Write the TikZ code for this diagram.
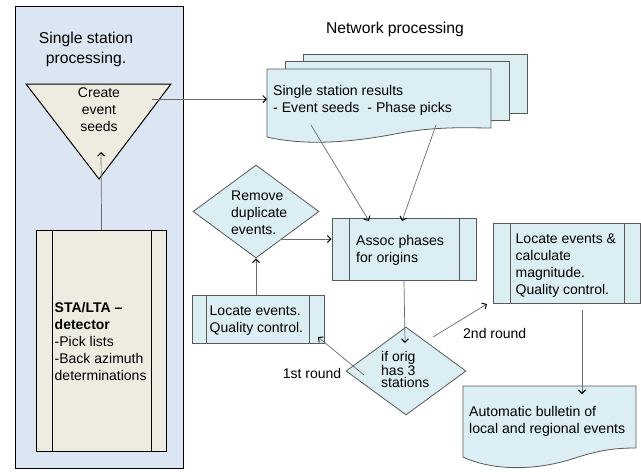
\documentclass[tikz,border=0pt]{standalone}
\usepackage{fontspec}
\setmainfont{Liberation Sans}
\usetikzlibrary{shapes.geometric,arrows.meta,calc}
\definecolor{panelblue}{HTML}{DCE6F2}
\definecolor{beige}{HTML}{EEECE1}
\definecolor{cyanfill}{HTML}{DBEEF3}
\definecolor{edgegray}{HTML}{595959}
\definecolor{linegray}{HTML}{6A6A6A}
\tikzset{
  lbl/.style={font=\fontsize{14}{17}\selectfont, inner sep=0, align=left, text=black},
  doclbl/.style={font=\fontsize{14.1}{17}\selectfont, inner sep=0, align=left, text=black},
  titletxt/.style={font=\fontsize{15.7}{20}\selectfont, inner sep=0, align=center},
  procfill/.style={draw=edgegray, fill=cyanfill, line width=0.8pt},
  procbox/.style={procfill, rectangle, inner sep=0},
  innerline/.style={draw=edgegray, line width=0.8pt},
  arr/.style={draw=linegray, line width=0.7pt, -{Straight Barb[length=3.5pt,width=7pt,line width=1pt,color=black]}}
}
\begin{document}
\begin{tikzpicture}[x=1pt,y=-1pt]
\useasboundingbox (0,0) rectangle (641,472);
% ---------- left panel ----------
\node[draw=black, fill=panelblue, line width=1.4pt, inner sep=0, anchor=north west,
      minimum width=168, minimum height=462] (panel) at (15,6) {};
\node[titletxt] (sstitle) at (86,49) {Single station\\processing.};
% triangle
\filldraw[draw=black, fill=beige, line width=1pt] (26,84) -- (171,84) -- (99,179) -- cycle;
\coordinate (seedin) at (101,152);
\coordinate (seedout) at (152,99);
\node[lbl, align=center] (seeds) at (99,110) {Create\\event\\seeds};
% STA/LTA box
\node[draw=black, fill=beige, line width=1.2pt, inner sep=0, anchor=north west,
      minimum width=130, minimum height=221] (sta) at (36,230) {};
\draw[black, line width=1pt] ([xshift=16]sta.north west) -- ([xshift=16]sta.south west);
\draw[black, line width=1pt] ([xshift=-16]sta.north east) -- ([xshift=-16]sta.south east);
\node[lbl, anchor=west] (statxt) at (54.5,341.5)
  {\textbf{STA/LTA –}\\\textbf{detector}\\-Pick lists\\-Back azimuth\\determinations};
% ---------- network ----------
\node[titletxt] (nettitle) at (395,29) {Network processing};
% multidocument
\filldraw[procfill] (303,54) rectangle (527,113);
\filldraw[procfill] (285,61) rectangle (509,120);
\filldraw[procfill] (267,69) -- (491,69) -- (491,128)
  .. controls (470,128) and (440,126) .. (400,133)
  .. controls (360,141) and (310,147) .. (267,137) -- cycle;
\coordinate (docL) at (267,99);
\coordinate (docA) at (311,125);
\coordinate (docB) at (436,125);
\node[doclbl, anchor=west] (doctxt) at (273,100.5)
  {Single station results\\- Event seeds\hspace{8pt}- Phase picks};
% assoc box
\node[procbox, minimum width=144, minimum height=62] (assoc) at (404,249) {};
\draw[innerline] ([xshift=18]assoc.north west) -- ([xshift=18]assoc.south west);
\draw[innerline] ([xshift=-17]assoc.north east) -- ([xshift=-17]assoc.south east);
\node[doclbl, anchor=west] (assoctxt) at (356,250) {Assoc phases\\for origins};
% remove duplicate diamond
\node[diamond, procfill, minimum width=126, minimum height=93, inner sep=0] (remove) at (256,211.5) {};
\coordinate (remout) at (282,239);
\node[lbl, anchor=west] (removetxt) at (231,212.5) {Remove\\duplicate\\events.};
% locate events box
\node[procbox, minimum width=132, minimum height=48] (locq) at (258,319) {};
\draw[innerline] ([xshift=15]locq.north west) -- ([xshift=15]locq.south west);
\draw[innerline] ([xshift=-15]locq.north east) -- ([xshift=-15]locq.south east);
\node[lbl, anchor=west] (locqtxt) at (209.5,320.5) {Locate events.\\Quality control.};
\coordinate (locqin) at (318,337);
% orig diamond
\node[diamond, procfill, minimum width=120, minimum height=88, inner sep=0] (orig) at (406,371) {};
\node[lbl, anchor=west, font=\fontsize{14}{12.5}\selectfont] (origtxt) at (381,369.5) {if orig\\has 3\\stations};
\coordinate (origin) at (405,343);
\coordinate (origL) at (364,375);
\coordinate (origR) at (433,337);
% locate & magnitude box
\node[procbox, minimum width=147.5, minimum height=80] (loc2) at (566.75,263) {};
\draw[innerline] ([xshift=18]loc2.north west) -- ([xshift=18]loc2.south west);
\draw[innerline] ([xshift=-16.5]loc2.north east) -- ([xshift=-16.5]loc2.south east);
\node[lbl, anchor=west] (loc2txt) at (515.5,265.5)
  {Locate events \&\\calculate\\magnitude.\\Quality control.};
\coordinate (loc2in) at (487,304);
\coordinate (loc2out) at (582,310);
% bulletin
\filldraw[procfill] (463,386) -- (636,386) -- (636,448)
  .. controls (615,448) and (600,450) .. (575,458)
  .. controls (540,470) and (495,472) .. (463,457) -- cycle;
\coordinate (bullin) at (582,394);
\node[doclbl, anchor=west] (bulltxt) at (469,421.5) {Automatic bulletin of\\local and regional events};
% labels
\node[lbl] (first) at (312,373) {1st round};
\node[lbl, anchor=west] (second) at (463,333) {2nd round};
% ---------- connectors ----------
\draw[arr] (sta.north) -- (seedin);
\draw[arr] (seedout) -- (docL);
\draw[arr] (docA) -- (369,221);
\draw[arr] (docB) -- (402,221);
\draw[arr] (remout) -- (remout -| assoc.west);
\draw[arr] (locq.north -| remove.south) -- (remove.south);
\draw[arr] (assoc.south) -- (origin);
\draw[arr] (origL) -- (locqin);
\draw[arr] (origR) -- (loc2in);
\draw[arr] (loc2out) -- (bullin);
\end{tikzpicture}
\end{document}
